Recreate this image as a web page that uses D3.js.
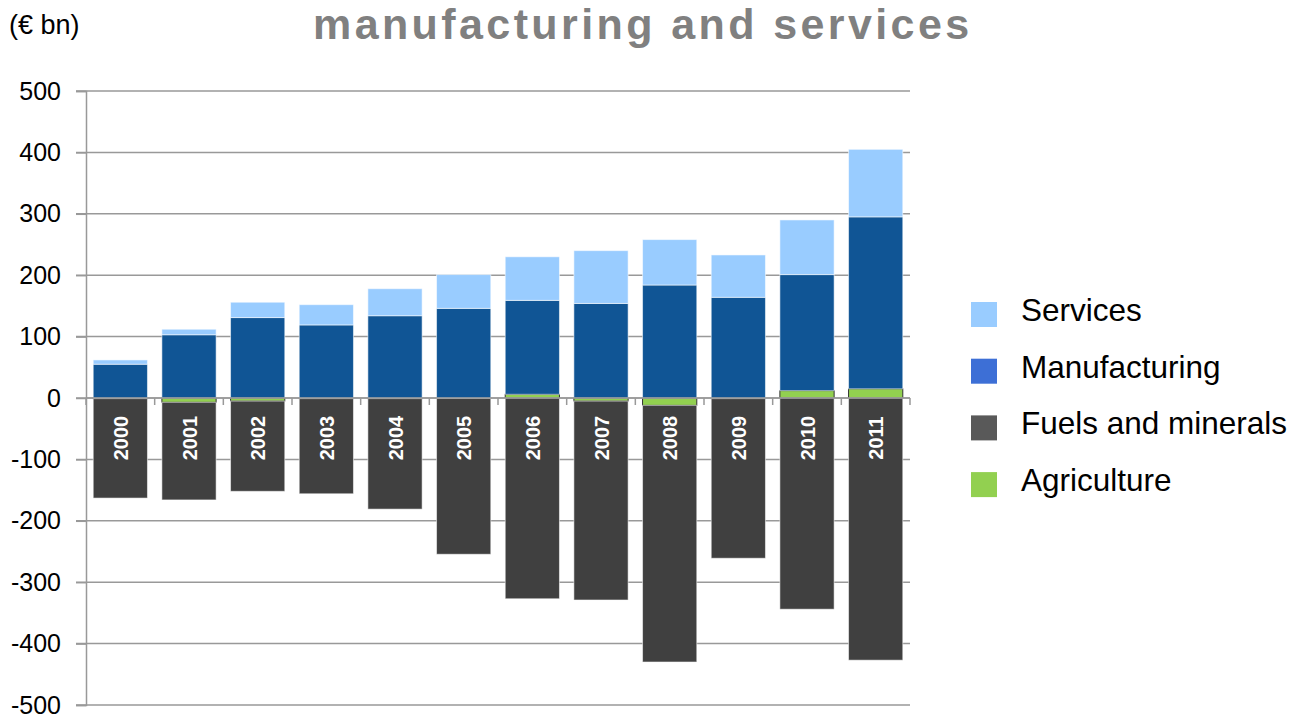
<!DOCTYPE html>
<html>
<head>
<meta charset="utf-8">
<script src="https://cdn.jsdelivr.net/npm/d3@7"></script>
<style>
  body { margin: 0; background: #fff; }
  text { font-family: "Liberation Sans", Arial, sans-serif; }
</style>
</head>
<body>
<div id="chart"></div>
<script>
// data (€bn)
let years = ["2000","2001","2002","2003","2004","2005","2006","2007","2008","2009","2010","2011"];
let agriculture = [-1, -7, -5, -1, -1, -0.5, 6, -5, -12, -1, 12, 15];
let fuels = [-162, -159, -147, -155, -180, -254, -327, -324, -418, -260, -344, -427];
let manufacturing = [55, 103, 131, 119, 134, 146, 153, 154, 184, 164, 189, 280];
let services = [7, 9, 25, 33, 44, 55, 71, 86, 74, 69, 89, 110];
let yTicks = [500, 400, 300, 200, 100, 0, -100, -200, -300, -400, -500];

let keys = ["Agriculture", "Fuels and minerals", "Manufacturing", "Services"];
let barColor = {"Agriculture":"#92d050","Fuels and minerals":"#404040","Manufacturing":"#105595","Services":"#99ccff"};
let legendColor = {"Agriculture":"#92d050","Fuels and minerals":"#595959","Manufacturing":"#3d6fd6","Services":"#99ccff"};

let rows = years.map(function(y, i) {
    return {year: y, "Agriculture": agriculture[i], "Fuels and minerals": fuels[i],
            "Manufacturing": manufacturing[i], "Services": services[i]};
});

let width = 1310, height = 715;
let svg = d3.select("#chart").append("svg")
    .attr("width", width)
    .attr("height", height);

let x = d3.scaleBand()
    .domain(years)
    .range([86, 910])
    .paddingInner(0.21)
    .paddingOuter(0.105);
let y = d3.scaleLinear()
    .domain([-500, 500])
    .range([705, 91]);

// gridlines
svg.append("g").selectAll("line")
    .data(yTicks)
    .enter().append("line")
    .attr("x1", 76).attr("x2", 910)
    .attr("y1", function(d){ return y(d); })
    .attr("y2", function(d){ return y(d); })
    .attr("stroke", "#999").attr("stroke-width", 1.5);

// y axis labels (plain hyphen for negatives, like the original)
let yAxis = svg.append("g")
    .attr("transform", "translate(86,0)")
    .call(d3.axisLeft(y).tickValues(yTicks).tickSize(10).tickPadding(15)
        .tickFormat(function(d){ return String(d); }));
yAxis.select(".domain").attr("stroke", "#999").attr("stroke-width", 1.5);
yAxis.selectAll(".tick line").attr("stroke", "#999").attr("stroke-width", 1.5);
yAxis.selectAll(".tick text")
    .attr("font-family", "'Liberation Sans', Arial, sans-serif")
    .attr("font-size", 25).attr("fill", "#000");

// stacked bars
let stack = d3.stack().keys(keys).offset(d3.stackOffsetDiverging);
let series = stack(rows);

svg.append("g").selectAll("g")
    .data(series)
    .enter().append("g")
    .attr("fill", function(d){ return barColor[d.key]; })
    .attr("stroke", function(d){ return d.key == "Agriculture" ? "#333" : "rgba(255,255,255,0.55)"; })
    .attr("stroke-width", 1)
    .selectAll("rect")
    .data(function(d){ return d; })
    .enter().append("rect")
    .attr("x", function(d){ return x(d.data.year); })
    .attr("width", x.bandwidth())
    .attr("y", function(d){ return y(Math.max(d[0], d[1])); })
    .attr("height", function(d){ return Math.abs(y(d[0]) - y(d[1])); });

// category axis at zero
svg.append("line")
    .attr("x1", 86).attr("x2", 910)
    .attr("y1", y(0)).attr("y2", y(0))
    .attr("stroke", "#999").attr("stroke-width", 1.5);
svg.append("g").selectAll("line")
    .data(d3.range(years.length + 1))
    .enter().append("line")
    .attr("x1", function(i){ return 86 + i * x.step(); })
    .attr("x2", function(i){ return 86 + i * x.step(); })
    .attr("y1", y(0)).attr("y2", y(0) + 7)
    .attr("stroke", "#999").attr("stroke-width", 1.5);

// year labels inside the bars
svg.append("g").selectAll("text")
    .data(years)
    .enter().append("text")
    .attr("transform", function(d){ return "translate(" + (x(d) + x.bandwidth()/2 + 7.5) + "," + 438 + ") rotate(-90)"; })
    .attr("text-anchor", "middle")
    .attr("font-family", "'Open Sans', 'Noto Sans', sans-serif")
    .attr("font-weight", "bold")
    .attr("font-size", 20)
    .attr("fill", "#fff")
    .text(function(d){ return d; });

// title and unit
svg.append("text")
    .attr("x", 313).attr("y", 39)
    .attr("font-weight", "bold")
    .attr("font-size", 43)
    .attr("letter-spacing", 3.4)
    .attr("fill", "#808080")
    .text("manufacturing and services");
svg.append("text")
    .attr("x", 9).attr("y", 34)
    .attr("font-size", 27)
    .attr("fill", "#000")
    .text("(€ bn)");

// legend
let legendKeys = ["Services", "Manufacturing", "Fuels and minerals", "Agriculture"];
let legend = svg.append("g").selectAll("g")
    .data(legendKeys)
    .enter().append("g")
    .attr("transform", function(d, i){ return "translate(971," + (302 + i * 56.7) + ")"; });
legend.append("rect")
    .attr("width", 26).attr("height", 25)
    .attr("fill", function(d){ return legendColor[d]; });
legend.append("text")
    .attr("x", 50).attr("y", 19)
    .attr("font-size", 31.5)
    .attr("fill", "#000")
    .text(function(d){ return d; });
</script>
</body>
</html>
